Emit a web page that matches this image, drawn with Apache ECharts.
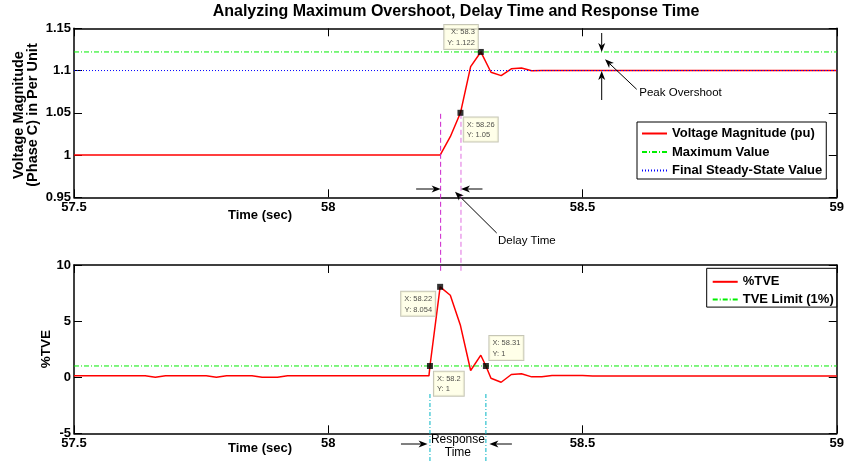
<!DOCTYPE html>
<html><head><meta charset="utf-8">
<script src="https://cdn.jsdelivr.net/npm/echarts@6/dist/echarts.min.js"></script>
<style>html,body{margin:0;padding:0;background:#fff}#c{width:847px;height:465px}</style>
</head><body><div id="c"></div>
<script>
// ---------- data ----------
const xTicks = [57.5, 58, 58.5, 59];
const voltTicks = [0.95, 1.15, 0.05];
const tveTicks = [-5, 10, 5];
const voltT = [57.5, 58.2, 58.22, 58.24, 58.26, 58.28, 58.3, 58.32, 58.34, 58.36, 58.38, 58.4, 58.42, 59];
const voltV = [1.0, 1.0, 1.0, 1.0217, 1.05, 1.1046, 1.122, 1.098, 1.094, 1.102, 1.103, 1.0998, 1.1, 1.1];
const maxValue = 1.122;
const steadyValue = 1.1;
const tveT = [57.5, 57.64, 57.66, 57.68, 57.76, 57.78, 57.8, 57.85, 57.87, 57.9, 57.92, 58.198, 58.2, 58.22, 58.24, 58.26, 58.28, 58.3, 58.31, 58.32, 58.34, 58.36, 58.38, 58.4, 58.42, 58.44, 58.46, 58.5, 58.52, 59];
const tveV = [0.12, 0.12, 0.0, 0.12, 0.12, 0.0, 0.12, 0.12, 0.0, 0.0, 0.12, 0.12, 1.0, 8.054, 7.3, 4.6, 0.6, 1.96, 1.0, -0.1, -0.45, 0.24, 0.3, 0.03, 0.03, 0.15, 0.15, 0.15, 0.1, 0.1];
const tveLimit = 1;
const voltTipX = [58.3, 58.26];
const voltTipY = [1.122, 1.05];
const tveTipX = [58.22, 58.2, 58.31];
const tveTipY = [8.054, 1, 1];
const delayTimes = [58.22, 58.26];
const responseTimes = [58.2, 58.31];

// ---------- chart ----------
const FONT = '"Liberation Sans", Arial, Helvetica, sans-serif';
const chart = echarts.init(document.getElementById('c'), null, {renderer: 'canvas'});
const fmt = v => String(+(+v).toFixed(4));

function xAx(grid, pos, labels) {
  return {type: 'value', gridIndex: grid, position: pos, min: xTicks[0], max: xTicks[xTicks.length - 1],
    interval: xTicks[1] - xTicks[0],
    axisLine: {show: true, onZero: false, lineStyle: {color: '#000', width: 1.5}},
    axisTick: {show: true, inside: true, length: 8, lineStyle: {color: '#000', width: 1}},
    axisLabel: {show: labels, color: '#000', fontSize: 13, fontWeight: 'bold', fontFamily: FONT, margin: 4, formatter: fmt},
    splitLine: {show: false}};
}
function yAx(grid, pos, labels, t) {
  return {type: 'value', gridIndex: grid, position: pos, min: t[0], max: t[1], interval: t[2],
    axisLine: {show: true, onZero: false, lineStyle: {color: '#000', width: 1.5}},
    axisTick: {show: true, inside: true, length: 8, lineStyle: {color: '#000', width: 1}},
    axisLabel: {show: labels, color: '#000', fontSize: 13, fontWeight: 'bold', fontFamily: FONT, margin: 3, formatter: fmt},
    splitLine: {show: false}};
}

const tipLabel = {
  show: true, formatter: p => 'X: ' + p.value[0] + '\nY: ' + p.value[1],
  fontSize: 7.5, lineHeight: 10.5, fontFamily: FONT, color: '#222',
  backgroundColor: '#ffffe4', borderColor: '#b8b8a4', borderWidth: 1, padding: [2, 3, 1, 3]
};
const voltTipPos = [
  {position: [0, 0], align: 'right', verticalAlign: 'bottom'},
  {position: [6.3, 7.6], align: 'left', verticalAlign: 'top'}
];
const tveTipPos = [
  {position: [-2, 8], align: 'right', verticalAlign: 'top'},
  {position: [7, 8.7], align: 'left', verticalAlign: 'top'},
  {position: [6.5, -3], align: 'left', verticalAlign: 'bottom'}
];

const legendCommon = {
  orient: 'vertical', itemWidth: 25, itemHeight: 14, selectedMode: false,
  borderColor: '#000', borderWidth: 1, backgroundColor: '#fff',
  itemStyle: {opacity: 0},
  textStyle: {fontSize: 13, fontWeight: 'bold', fontFamily: FONT, color: '#000'}
};

chart.setOption({
  animation: false,
  backgroundColor: '#fff',
  grid: [
    {left: 74, right: 8.7, top: 28.3, height: 169},
    {left: 74, right: 8.7, top: 265, height: 168.3}
  ],
  xAxis: [xAx(0, 'bottom', true), xAx(0, 'top', false), xAx(1, 'bottom', true), xAx(1, 'top', false)],
  yAxis: [yAx(0, 'left', true, voltTicks), yAx(0, 'right', false, voltTicks), yAx(1, 'left', true, tveTicks), yAx(1, 'right', false, tveTicks)],
  legend: [
    Object.assign({}, legendCommon, {data: ['Voltage Magnitude (pu)', 'Maximum Value', 'Final Steady-State Value'],
      left: 637, top: 122, itemGap: 5.5, padding: [5, 4, 2, 4]}),
    Object.assign({}, legendCommon, {data: ['%TVE', 'TVE Limit (1%)'],
      left: 706.7, top: 268.3, itemGap: 4.8, padding: [7, 3, 1, 5]})
  ],
  series: [
    {type: 'line', name: 'Voltage Magnitude (pu)', xAxisIndex: 0, yAxisIndex: 0, symbol: 'none',
      data: voltT.map((t, i) => [t, voltV[i]]), lineStyle: {color: '#ff0000', width: 1.5}, itemStyle: {color: '#ff0000'}},
    {type: 'line', name: 'Maximum Value', xAxisIndex: 0, yAxisIndex: 0, symbol: 'none',
      data: [[xTicks[0], maxValue], [xTicks[xTicks.length - 1], maxValue]],
      lineStyle: {color: '#00ee00', width: 1, type: [5, 2, 1, 2]}, itemStyle: {color: '#00ee00'}},
    {type: 'line', name: 'Final Steady-State Value', xAxisIndex: 0, yAxisIndex: 0, symbol: 'none',
      data: [[xTicks[0], steadyValue], [xTicks[xTicks.length - 1], steadyValue]],
      lineStyle: {color: '#0000ff', width: 1, type: [1, 2]}, itemStyle: {color: '#0000ff'}},
    {type: 'line', name: '%TVE', xAxisIndex: 2, yAxisIndex: 2, symbol: 'none',
      data: tveT.map((t, i) => [t, tveV[i]]), lineStyle: {color: '#ff0000', width: 1.5}, itemStyle: {color: '#ff0000'}},
    {type: 'line', name: 'TVE Limit (1%)', xAxisIndex: 2, yAxisIndex: 2, symbol: 'none',
      data: [[xTicks[0], tveLimit], [xTicks[xTicks.length - 1], tveLimit]],
      lineStyle: {color: '#00ee00', width: 1, type: [5, 2, 1, 2]}, itemStyle: {color: '#00ee00'}},
    {type: 'scatter', name: 'voltTips', xAxisIndex: 0, yAxisIndex: 0, symbol: 'rect', symbolSize: 6, z: 20, clip: false,
      itemStyle: {color: '#000'}, label: tipLabel,
      data: voltTipX.map((x, i) => ({value: [x, voltTipY[i]], label: voltTipPos[i]}))},
    {type: 'scatter', name: 'tveTips', xAxisIndex: 2, yAxisIndex: 2, symbol: 'rect', symbolSize: 6, z: 20, clip: false,
      itemStyle: {color: '#000'}, label: tipLabel,
      data: tveTipX.map((x, i) => ({value: [x, tveTipY[i]], label: tveTipPos[i]}))}
  ]
});

// ---------- annotations ----------
const P0 = (t, v) => chart.convertToPixel({xAxisIndex: 0, yAxisIndex: 0}, [t, v]);
const P1 = (t, v) => chart.convertToPixel({xAxisIndex: 2, yAxisIndex: 2}, [t, v]);

function arrow(x1, y1, x2, y2) {
  const dx = x2 - x1, dy = y2 - y1, L = Math.hypot(dx, dy), ux = dx / L, uy = dy / L, nx = -uy, ny = ux;
  const hl = 9, hw = 3.5, notch = 2.5;
  const bx = x2 - ux * hl, by = y2 - uy * hl;
  const mx = bx + ux * notch, my = by + uy * notch;
  return [
    {type: 'line', z: 50, shape: {x1: x1, y1: y1, x2: mx, y2: my}, style: {stroke: '#000', lineWidth: 1}},
    {type: 'polygon', z: 50, shape: {points: [[x2, y2], [bx + nx * hw, by + ny * hw], [mx, my], [bx - nx * hw, by - ny * hw]]},
      style: {fill: '#000'}}
  ];
}
function text(str, x, y, opts) {
  return Object.assign({type: 'text', z: 50, x: x, y: y,
    style: Object.assign({text: str, fontFamily: FONT, fontSize: 11.5, fill: '#000', align: 'left', verticalAlign: 'middle'}, opts || {})});
}
function vline(x, y1, y2, color, dash) {
  return {type: 'line', z: 5, shape: {x1: x, y1: y1, x2: x, y2: y2}, style: {stroke: color, lineWidth: 1, lineDash: dash}};
}

const g = [];
// title and axis names
g.push(text('Analyzing Maximum Overshoot, Delay Time and Response Time', 456, 11.5,
  {fontSize: 16, fontWeight: 'bold', align: 'center'}));
g.push(text('Voltage Magnitude\n(Phase C) in Per Unit', 26, 115,
  {fontSize: 14.5, fontWeight: 'bold', align: 'center', lineHeight: 14.5}));
g[g.length - 1].rotation = Math.PI / 2;
g.push(text('%TVE', 46, 349, {fontSize: 13.5, fontWeight: 'bold', align: 'center'}));
g[g.length - 1].rotation = Math.PI / 2;
g.push(text('Time (sec)', 260, 215, {fontSize: 13, fontWeight: 'bold', align: 'center'}));
g.push(text('Time (sec)', 260, 448.5, {fontSize: 13, fontWeight: 'bold', align: 'center'}));

// delay time: magenta dashed lines
const dA = P0(delayTimes[0], 1.05), dB = P0(delayTimes[1], 1.05);
const dBot = P1(delayTimes[0], 9.3)[1];
g.push(vline(dA[0] + 0.5, dA[1] + 1, dBot, '#cc22cc', [5, 3]));
g.push(vline(dB[0] + 0.5, dB[1] + 1, dBot, '#e070e0', [5, 3]));
const yDelay = 189;
g.push(...arrow(dA[0] - 24, yDelay, dA[0] + 0.5, yDelay));
g.push(...arrow(dB[0] + 22, yDelay, dB[0] + 0.5, yDelay));
g.push(...arrow(496.7, 233, 455, 191.7));
g.push(text('Delay Time', 498, 240.7));

// peak overshoot
const xPeak = 601.7;
const yMax = P0(58.5, maxValue)[1], ySteady = P0(58.5, steadyValue)[1];
g.push(...arrow(xPeak, 33, xPeak, yMax));
g.push(...arrow(xPeak, 100, xPeak, ySteady + 0.5));
g.push(...arrow(636.7, 89.3, 605, 59.3));
g.push(text('Peak Overshoot', 639.3, 93.3));

// response time: cyan dash-dot lines
const rA = P1(responseTimes[0], -1.5), rB = P1(responseTimes[1], -1.5);
g.push(vline(rA[0], rA[1], 463, '#00b4c4', [4, 2, 1, 2]));
g.push(vline(rB[0], rB[1], 463, '#00b4c4', [4, 2, 1, 2]));
const yResp = 444;
g.push(...arrow(rA[0] - 29, yResp, rA[0] - 2.4, yResp));
g.push(...arrow(rB[0] + 26, yResp, rB[0] + 3.5, yResp));
g.push(text('Response\nTime', (rA[0] + rB[0]) / 2, 446, {fontSize: 12, align: 'center', lineHeight: 13.4}));

chart.setOption({graphic: {elements: g}});
</script>
</body></html>
